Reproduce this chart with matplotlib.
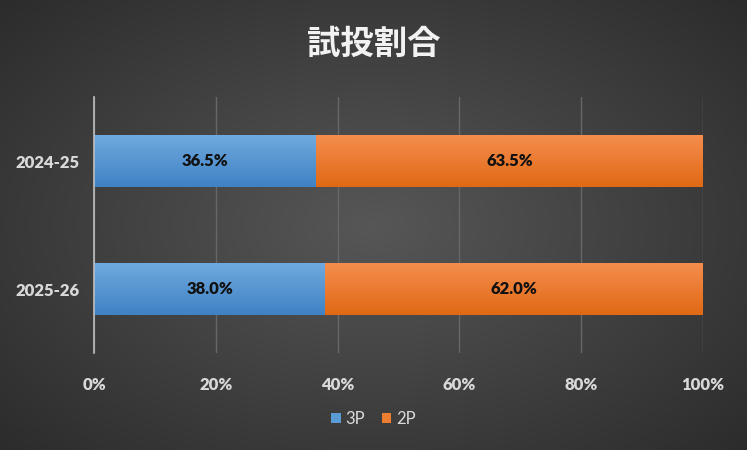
import numpy as np
import matplotlib
matplotlib.use("Agg")
from matplotlib import pyplot as plt
from matplotlib.colors import LinearSegmentedColormap

seasons = ["2024-25", "2025-26"]
share_3p = [36.5, 38.0]
share_2p = [63.5, 62.0]
ticks = [0, 20, 40, 60, 80, 100]

plt.rcParams["font.family"] = ["Lato", "Noto Sans CJK JP", "DejaVu Sans"]

fig = plt.figure(figsize=(7.47, 4.5), dpi=100)

# radial background
bg = fig.add_axes([0, 0, 1, 1], zorder=-10)
yy, xx = np.mgrid[0:450, 0:747]
r = np.sqrt(((xx - 373) / 520) ** 2 + ((yy - 225) / 330) ** 2)
shade = np.clip(0.34 - 0.17 * r, 0.15, 0.34)
bg.imshow(np.dstack([shade] * 3), aspect="auto", extent=[0, 1, 0, 1])
bg.axis("off")

ax = fig.add_axes([94 / 747, 1 - 353 / 450, 609 / 747, 256 / 450])
ax.set_facecolor("none")

ypos = np.arange(len(seasons))
b1 = ax.barh(ypos, share_3p, height=0.4, color="#5b9bd5", zorder=3)
b2 = ax.barh(ypos, share_2p, left=share_3p, height=0.4, color="#ed7d31", zorder=3)

def fill_gradient(bars, top, bottom):
    cmap = LinearSegmentedColormap.from_list("g", [top, bottom])
    grad = np.linspace(0, 1, 64).reshape(-1, 1)
    for p in bars:
        x0, y0 = p.get_x(), p.get_y()
        w, h = p.get_width(), p.get_height()
        im = ax.imshow(grad, cmap=cmap, aspect="auto", zorder=3.5,
                       extent=[x0, x0 + w, y0 + h, y0])
        im.set_clip_path(p)

fill_gradient(b1, "#6fa9df", "#3f82c4")
fill_gradient(b2, "#f58d4e", "#e06914")

for i in range(len(seasons)):
    ax.text(share_3p[i] / 2, ypos[i], f"{share_3p[i]:.1f}%", ha="center", va="center",
            fontsize=12, fontweight="heavy", color="#111111", zorder=5)
    ax.text(share_3p[i] + share_2p[i] / 2, ypos[i], f"{share_2p[i]:.1f}%", ha="center",
            va="center", fontsize=12, fontweight="heavy", color="#111111", zorder=5)

ax.set_xlim(0, 100)
ax.set_ylim(1.5, -0.5)
ax.set_xticks(ticks)
ax.set_xticklabels([f"{t}%" for t in ticks])
ax.set_yticks(ypos)
ax.set_yticklabels(seasons)
ax.tick_params(axis="both", length=0, colors="#d9d9d9", labelsize=12)
ax.tick_params(axis="x", pad=17)
ax.tick_params(axis="y", pad=10)
for lab in ax.get_xticklabels() + ax.get_yticklabels():
    lab.set_fontweight("heavy")
ax.grid(axis="x", color="#676767", linewidth=1, zorder=0)
for s in ["top", "right", "bottom"]:
    ax.spines[s].set_visible(False)
ax.spines["left"].set_color("#bfbfbf")
ax.spines["left"].set_linewidth(1.2)
ax.spines["left"].set_zorder(4)

fig.text(0.5, 1 - 44 / 450, "試投割合", ha="center", va="center", fontsize=24,
         fontweight="bold", color="#f2f2f2", family=["Noto Sans CJK JP", "DejaVu Sans"])

leg = fig.legend([b1, b2], ["3P", "2P"], loc="center", bbox_to_anchor=(0.5, 1 - 419 / 450),
                 ncol=2, frameon=False, fontsize=12, handlelength=0.55, handleheight=0.55,
                 handletextpad=0.3, columnspacing=1.0)
for t in leg.get_texts():
    t.set_color("#d9d9d9")

fig.savefig("out.png", dpi=100)
